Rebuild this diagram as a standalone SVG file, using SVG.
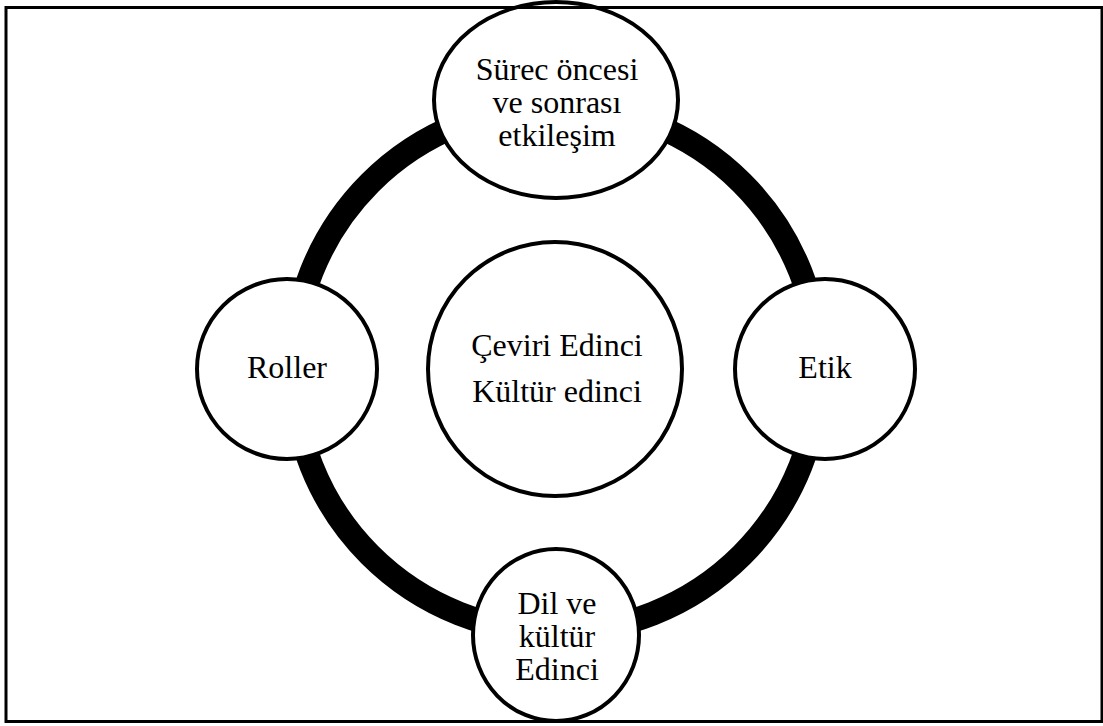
<svg xmlns="http://www.w3.org/2000/svg" width="1103" height="726" viewBox="0 0 1103 726">
  <style>
    .node { fill: #ffffff; stroke: #000000; stroke-width: 4; }
    .label { font-family: "Liberation Serif", "Times New Roman", serif; font-size: 32px; fill: #000000; text-anchor: middle; }
    .ring { fill: none; stroke: #000000; stroke-width: 24; }
    .frame { fill: none; stroke: #000000; stroke-width: 3; }
  </style>
  <rect width="1103" height="726" fill="#ffffff"/>

  <!-- connecting ring behind the nodes -->
  <g id="connectors">
    <circle class="ring" cx="556" cy="369" r="263"/>
  </g>

  <g id="node-center">
    <circle class="node" cx="555" cy="369" r="127"/>
    <text class="label" x="557" y="356">Çeviri Edinci</text>
    <text class="label" x="557" y="402">Kültür edinci</text>
  </g>

  <g id="node-top">
    <ellipse class="node" cx="556" cy="100" rx="122" ry="98"/>
    <text class="label" x="557" y="80">Sürec öncesi</text>
    <text class="label" x="557" y="113">ve sonrası</text>
    <text class="label" x="557" y="146">etkileşim</text>
  </g>

  <g id="node-left">
    <circle class="node" cx="287" cy="369" r="90"/>
    <text class="label" x="287" y="378">Roller</text>
  </g>

  <g id="node-right">
    <circle class="node" cx="825" cy="369" r="90"/>
    <text class="label" x="825" y="378">Etik</text>
  </g>

  <g id="node-bottom">
    <ellipse class="node" cx="556" cy="635" rx="83" ry="86"/>
    <text class="label" x="557" y="614">Dil ve</text>
    <text class="label" x="557" y="647">kültür</text>
    <text class="label" x="557" y="680">Edinci</text>
  </g>

  <!-- outer frame -->
  <rect class="frame" x="6" y="7.5" width="1096" height="714"/>
</svg>
